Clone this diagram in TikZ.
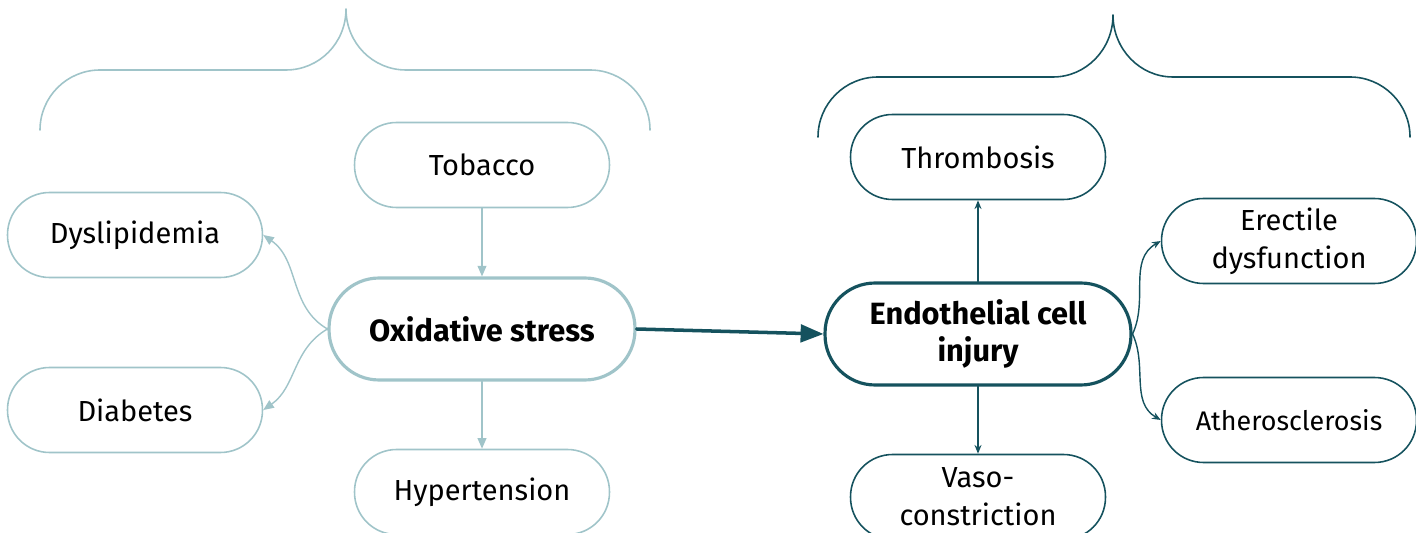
\documentclass[tikz,border=0pt]{standalone}
\usepackage{fontspec}
\setmainfont{Fira Sans}
\usetikzlibrary{arrows.meta}
\definecolor{lightteal}{RGB}{160,196,201}
\definecolor{darkteal}{RGB}{21,82,94}
\tikzset{
	lbox/.style={draw=lightteal,line width=0.9pt,rounded corners=0.84cm,minimum width=5.1cm,minimum height=1.7cm,align=center,font=\fontsize{16.5}{21.5}\selectfont},
	dbox/.style={lbox,draw=darkteal},
	lbig/.style={draw=lightteal,line width=1.8pt,rounded corners=1.0cm,minimum width=6.12cm,minimum height=2.04cm,align=center,font=\fontsize{17.5}{21}\selectfont\bfseries},
	dbig/.style={lbig,draw=darkteal},
	larrow/.style={draw=lightteal,line width=0.8pt,-{Triangle[length=6pt,width=5pt]}},
	darrow/.style={draw=darkteal,line width=0.8pt,-{Stealth[length=5pt,width=4pt]}},
	bigarrow/.style={draw=darkteal,line width=2pt,-{Triangle[length=13pt,width=10pt]}}
}
\begin{document}
\begin{tikzpicture}[x=0.02cm,y=0.02cm,line cap=round,line join=round]
\useasboundingbox (0,0) rectangle (1416,-533);
% braces
\draw [color=lightteal,line width=0.9pt] (40,-130) .. controls (40,-96.9) and (66.9,-70) .. (100,-70) -- (286,-70) .. controls (319.1,-70) and (346,-43.1) .. (346,-9) .. controls (346,-43.1) and (372.9,-70) .. (406,-70) -- (590,-70) .. controls (623.1,-70) and (650,-96.9) .. (650,-130);
\draw [color=darkteal,line width=0.9pt] (818,-137) .. controls (818,-103.9) and (844.9,-77) .. (878,-77) -- (1053,-77) .. controls (1086.1,-77) and (1113,-49.2) .. (1113,-15) .. controls (1113,-49.2) and (1139.9,-77) .. (1173,-77) -- (1350,-77) .. controls (1383.1,-77) and (1410,-103.9) .. (1410,-137);
% causes
\node [lbig] (ox) at (482,-329) {Oxidative stress};
\node [lbox] (tob) at (482,-165) {Tobacco};
\node [lbox] (dys) at (135,-235) {Dyslipidemia};
\node [lbox] (dia) at (135,-410) {Diabetes};
\node [lbox] (hyp) at (482,-492) {Hypertension};
% effects
\node [dbig] (en) at (978,-334) {Endothelial cell\\injury};
\node [dbox] (thr) at (978,-157) {Thrombosis};
\node [dbox] (vaso) at (978,-497) {Vaso-\\constriction};
\node [dbox] (ere) at (1289,-241) {Erectile\\dysfunction};
\node [dbox,font=\fontsize{15.3}{19}\selectfont] (ath) at (1289,-420) {Atherosclerosis};
% links
\draw [larrow] (tob) -- (ox);
\draw [larrow] (ox) -- (hyp);
\draw [larrow] (ox.west) to[out=150,in=-35] (dys.east);
\draw [larrow] (ox.west) to[out=210,in=35] (dia.east);
\draw [bigarrow] (ox.east) -- (en.west);
\draw [darrow] (en) -- (thr);
\draw [darrow] (en) -- (vaso);
\draw [darrow] (en.east) to[out=65,in=210] (ere.west);
\draw [darrow] (en.east) to[out=-65,in=150] (ath.west);
\end{tikzpicture}
\end{document}
